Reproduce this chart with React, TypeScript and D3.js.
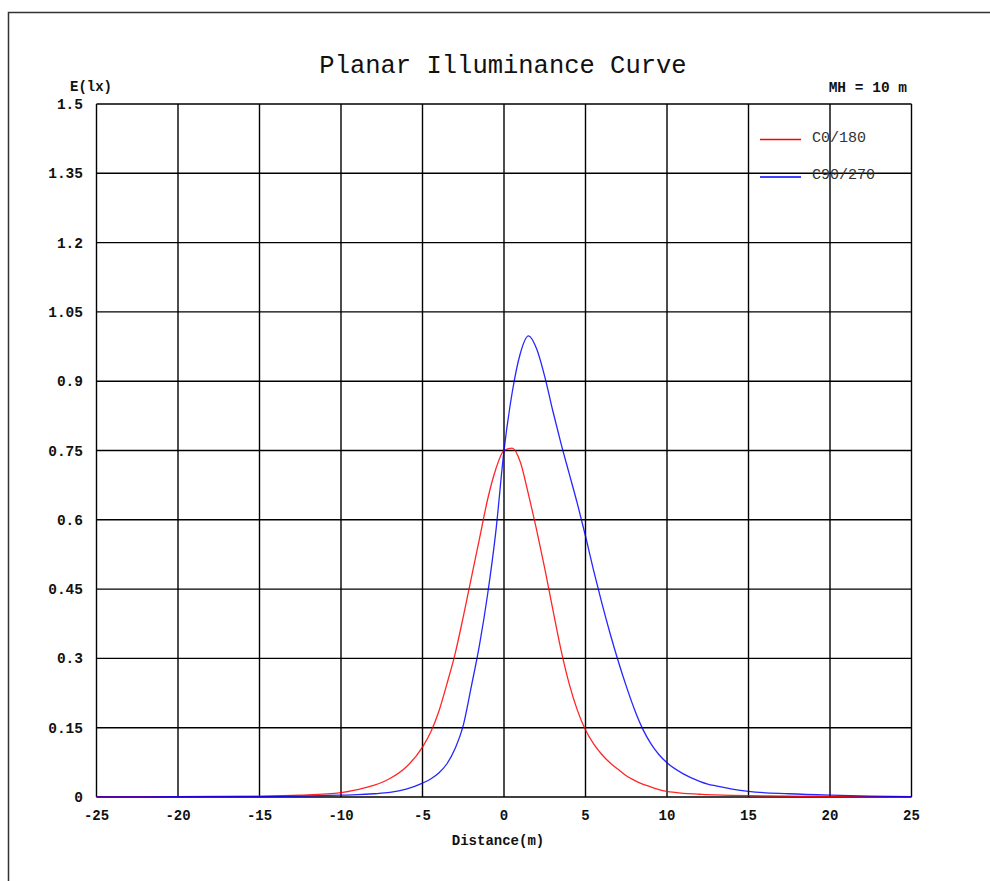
import React from "react";
import * as d3 from "d3";

const distances = [-25, -20, -15, -12.5, -10, -9, -8, -7, -6, -5, -4.5, -4, -3.5, -3, -2.5, -2, -1.5, -1, -0.5, 0, 0.5, 1, 1.5, 2, 2.5, 3, 3.5, 4, 4.5, 5, 5.5, 6, 6.5, 7, 7.5, 8, 8.5, 9, 9.5, 10, 11, 12, 12.5, 13, 14, 15, 17.5, 20, 22.5, 25];

const c0_180 = [0.0005, 0.001, 0.002, 0.004, 0.0095, 0.016, 0.025, 0.04, 0.065, 0.108, 0.14, 0.185, 0.245, 0.31, 0.39, 0.475, 0.56, 0.645, 0.71, 0.75, 0.755, 0.725, 0.655, 0.578, 0.495, 0.405, 0.318, 0.245, 0.188, 0.145, 0.115, 0.092, 0.074, 0.06, 0.046, 0.036, 0.028, 0.022, 0.016, 0.012, 0.008, 0.006, 0.005, 0.0045, 0.0035, 0.003, 0.002, 0.001, 0.0008, 0.0005];

const c90_270 = [0.0003, 0.0005, 0.001, 0.002, 0.004, 0.005, 0.007, 0.01, 0.017, 0.03, 0.039, 0.052, 0.072, 0.105, 0.155, 0.24, 0.33, 0.44, 0.575, 0.75, 0.875, 0.96, 0.998, 0.97, 0.91, 0.835, 0.765, 0.7, 0.635, 0.565, 0.49, 0.42, 0.355, 0.295, 0.24, 0.19, 0.148, 0.116, 0.092, 0.074, 0.05, 0.034, 0.028, 0.024, 0.017, 0.012, 0.007, 0.004, 0.002, 0.001];

const xTicks = [-25, -20, -15, -10, -5, 0, 5, 10, 15, 20, 25];
const yTicks = [0, 0.15, 0.3, 0.45, 0.6, 0.75, 0.9, 1.05, 1.2, 1.35, 1.5];

const series = [
  { name: "C0/180", color: "#ff0000", values: c0_180 },
  { name: "C90/270", color: "#0000ff", values: c90_270 },
];

const FONT = "'Liberation Mono', 'Courier New', monospace";

export default function App() {
  const x = d3.scaleLinear().domain([-25, 25]).range([96.5, 911.5]);
  const y = d3.scaleLinear().domain([0, 1.5]).range([797, 104]);

  const line = (vals: number[]) =>
    d3
      .line<number>()
      .x((_, i) => x(distances[i]))
      .y((v) => y(v))
      .curve(d3.curveMonotoneX)(vals) || "";

  return (
    <svg
      width={990}
      height={881}
      style={{ position: "absolute", left: 0, top: 0, background: "#fff" }}
    >
      <rect x={8.5} y={12.5} width={1000} height={900} fill="#fff" stroke="#333" strokeWidth={1.5} />
      <text x={503} y={73} textAnchor="middle" fontFamily={FONT} fontSize={25.5} fill="#111">
        Planar Illuminance Curve
      </text>
      <text x={70} y={91} fontFamily={FONT} fontSize={14} fontWeight="bold" fill="#111">
        E(lx)
      </text>
      <text x={907} y={92} textAnchor="end" fontFamily={FONT} fontSize={14.5} fontWeight="bold" fill="#111">
        MH = 10 m
      </text>
      {xTicks.map((t) => (
        <line key={"gx" + t} x1={x(t)} x2={x(t)} y1={y(0)} y2={y(1.5)} stroke="#000" strokeWidth={1.4} />
      ))}
      {yTicks.map((t) => (
        <line key={"gy" + t} x1={x(-25)} x2={x(25)} y1={y(t)} y2={y(t)} stroke="#000" strokeWidth={1.4} />
      ))}
      {xTicks.map((t) => (
        <text key={"tx" + t} x={x(t)} y={820} textAnchor="middle" fontFamily={FONT} fontSize={14} fontWeight="bold" fill="#111">
          {t}
        </text>
      ))}
      {yTicks.map((t) => (
        <text key={"ty" + t} x={83} y={y(t) + 5} textAnchor="end" fontFamily={FONT} fontSize={14.5} fontWeight="bold" fill="#111">
          {String(t)}
        </text>
      ))}
      <text x={498} y={845} textAnchor="middle" fontFamily={FONT} fontSize={14} fontWeight="bold" fill="#111">
        Distance(m)
      </text>
      {series.map((s) => (
        <path key={s.name} d={line(s.values)} fill="none" stroke={s.color} strokeWidth={1.3} strokeOpacity={0.85} />
      ))}
      {series.map((s, i) => (
        <g key={"lg" + s.name}>
          <line x1={760} x2={801} y1={139.5 + i * 37.5} y2={139.5 + i * 37.5} stroke={s.color} strokeWidth={1.4} />
          <text x={812} y={141.5 + i * 37} fontFamily={FONT} fontSize={15} fill="#333">
            {s.name}
          </text>
        </g>
      ))}
    </svg>
  );
}
